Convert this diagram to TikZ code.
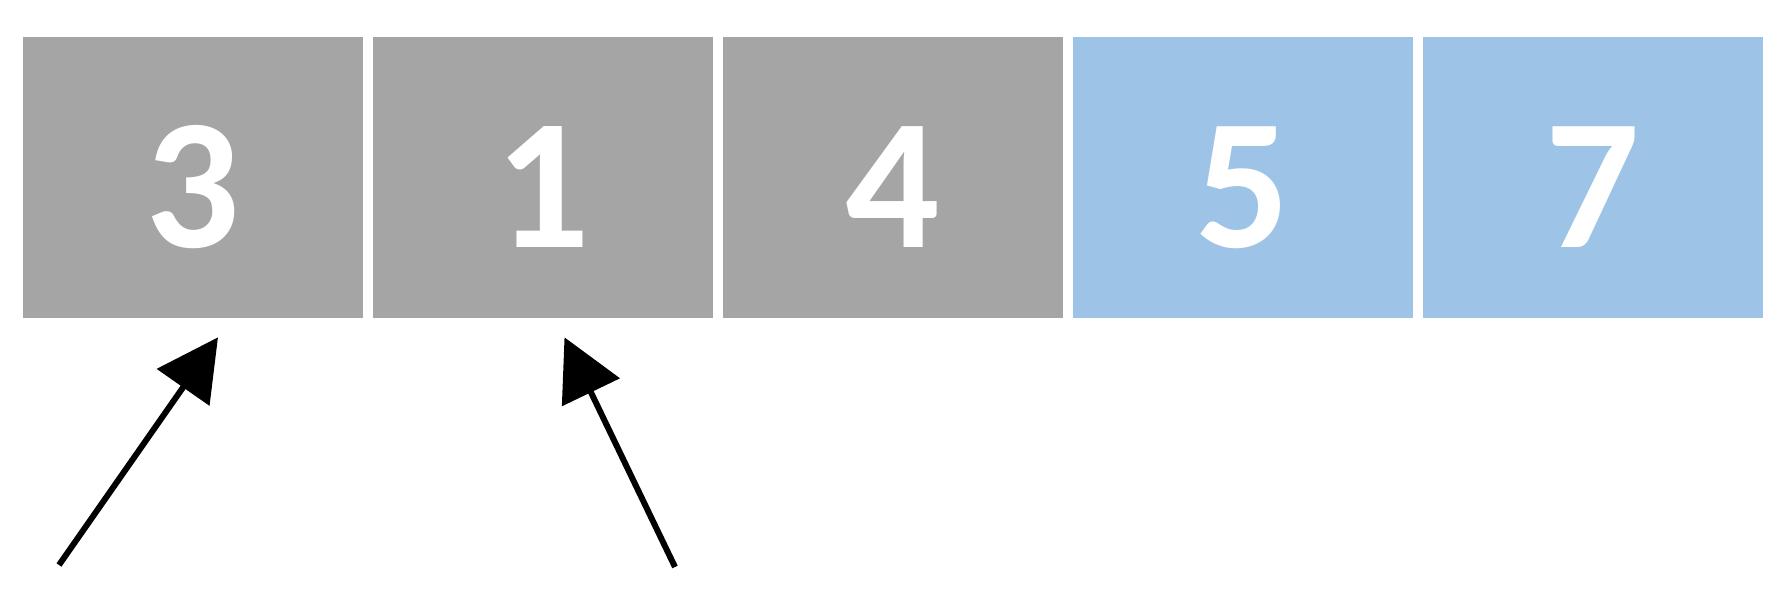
\documentclass[tikz,border=0pt]{standalone}
\usepackage{fontspec}
\setmainfont{Carlito}
\usepackage{tikz}
\usetikzlibrary{arrows.meta}

\definecolor{cellgray}{HTML}{A5A5A5}
\definecolor{cellblue}{HTML}{9DC3E6}

\begin{document}
\begin{tikzpicture}
		[c/.style= {minimum width=6.8cm,minimum height=5.62cm,inner sep=0pt,
			text=white,text height=2.80cm,text depth=0pt,
			font=\fontsize{106}{116}\selectfont\bfseries},
		 p/.style= {line width=3.4pt,-{Triangle[length=1.22cm,width=1.26cm]}}]

		\useasboundingbox[fill=white] (0,0) rectangle (35.84,11.84);

		\node[c,fill=cellgray] (c3) at ( 3.86,8.29) {3};
		\node[c,fill=cellgray] (c1) at (10.86,8.29) {1};
		\node[c,fill=cellgray] (c4) at (17.86,8.29) {4};
		\node[c,fill=cellblue] (c5) at (24.86,8.29) {5};
		\node[c,fill=cellblue] (c7) at (31.86,8.29) {7};

		\coordinate (i) at ( 1.18,0.54);
		\coordinate (j) at (13.50,0.50);

		\draw[p] (i) -- ([xshift=0.50cm,yshift=-0.38cm]c3.south);
		\draw[p] (j) -- ([xshift=0.43cm,yshift=-0.38cm]c1.south);

	\end{tikzpicture}
\end{document}
